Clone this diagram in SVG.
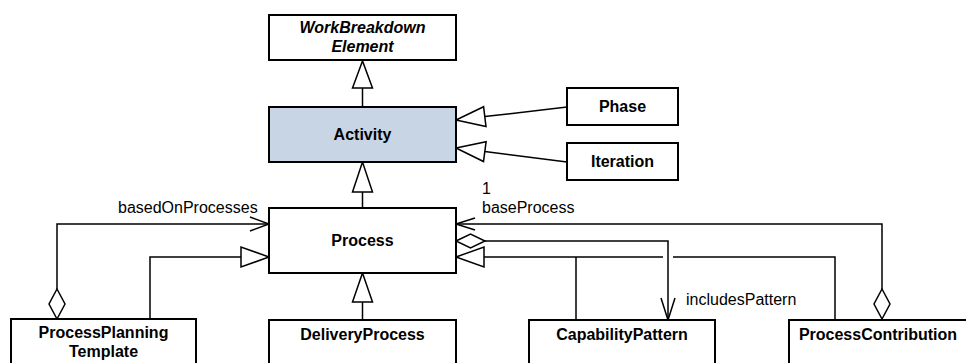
<svg xmlns="http://www.w3.org/2000/svg" width="966" height="363" viewBox="0 0 966 363">
<style>
.box{fill:#ffffff;stroke:#000;stroke-width:2}
.hl{fill:#c8d5e5}
.t{font-family:"Liberation Sans",Arial,sans-serif;font-size:16px;font-weight:bold;text-anchor:middle;fill:#000}
.ti{font-style:italic}
.lbl{font-family:"Liberation Sans",Arial,sans-serif;font-size:16px;fill:#000}
.ln{fill:none;stroke:#000;stroke-width:1.5}
.hd{fill:#fff;stroke:#000;stroke-width:1.5}
</style>
<rect width="966" height="363" fill="#fff"/>
<g id="connectors">
  <!-- WBE <- Activity -->
  <path class="ln" d="M362.5,88 V107"/>
  <polygon class="hd" points="362.5,61 352.5,88 372.5,88"/>
  <!-- Activity <- Process -->
  <path class="ln" d="M362.5,192 V208"/>
  <polygon class="hd" points="362.5,162 352.5,192 372.5,192"/>
  <!-- Process <- DeliveryProcess -->
  <path class="ln" d="M362.5,302 V320"/>
  <polygon class="hd" points="362.5,273 352.5,302 372.5,302"/>
  <!-- Phase -> Activity -->
  <path class="ln" d="M567,107 L484.8,116.6"/>
  <polygon class="hd" points="456,120 486,126.6 483.6,106.7"/>
  <!-- Iteration -> Activity -->
  <path class="ln" d="M567,162 L484.8,151.6"/>
  <polygon class="hd" points="456,148 486.1,141.7 483.5,161.5"/>
  <!-- basedOnProcesses -->
  <path class="ln" d="M57,289 V224 H269"/>
  <path class="ln" d="M250,217 L269,224 L250,231"/>
  <polygon class="hd" points="57,289 65,304 57,319 49,304"/>
  <!-- PPT generalization -->
  <path class="ln" d="M150,320 V257 H241"/>
  <polygon class="hd" points="269,257 241,247 241,267"/>
  <!-- baseProcess -->
  <path class="ln" d="M882,289 V224 H456"/>
  <path class="ln" d="M475,218 L456,224 L475,230"/>
  <polygon class="hd" points="882,289 890,304 882,319 874,304"/>
  <!-- includesPattern -->
  <path class="ln" d="M485,241 H668 V320"/>
  <path class="ln" d="M661,298 L668,320 L675,298"/>
  <polygon class="hd" points="456,241 470.5,234 485,241 470.5,248"/>
  <!-- CapabilityPattern / ProcessContribution generalization -->
  <path class="ln" d="M484,257 H663 M673,257 H835 V320 M576,257 V320"/>
  <polygon class="hd" points="456,257 484,247 484,267"/>
  <text class="lbl" x="118" y="213">basedOnProcesses</text>
  <text class="lbl" x="482" y="194">1</text>
  <text class="lbl" x="482" y="213">baseProcess</text>
  <text class="lbl" x="686" y="305">includesPattern</text>
</g>
<g id="WorkBreakdownElement">
  <rect class="box" x="269" y="15" width="187" height="45"/>
  <text class="t ti" x="362.5" y="33">WorkBreakdown</text>
  <text class="t ti" x="362.5" y="52">Element</text>
</g>
<g id="Activity">
  <rect class="box hl" x="269" y="107" width="187" height="55"/>
  <text class="t" x="362.5" y="140">Activity</text>
</g>
<g id="Phase">
  <rect class="box" x="567" y="88" width="111" height="37"/>
  <text class="t" x="622.5" y="112">Phase</text>
</g>
<g id="Iteration">
  <rect class="box" x="567" y="143" width="111" height="37"/>
  <text class="t" x="622.5" y="167">Iteration</text>
</g>
<g id="Process">
  <rect class="box" x="269" y="208" width="187" height="65"/>
  <text class="t" x="362.5" y="246">Process</text>
</g>
<g id="ProcessPlanningTemplate">
  <rect class="box" x="11" y="319" width="185" height="60"/>
  <text class="t" x="103.5" y="338">ProcessPlanning</text>
  <text class="t" x="103.5" y="357">Template</text>
</g>
<g id="DeliveryProcess">
  <rect class="box" x="269" y="320" width="187" height="60"/>
  <text class="t" x="362.5" y="340">DeliveryProcess</text>
</g>
<g id="CapabilityPattern">
  <rect class="box" x="529" y="320" width="186" height="60"/>
  <text class="t" x="622" y="340">CapabilityPattern</text>
</g>
<g id="ProcessContribution">
  <rect class="box" x="789" y="320" width="190" height="60"/>
  <text class="t" x="878" y="340">ProcessContribution</text>
</g>
</svg>
